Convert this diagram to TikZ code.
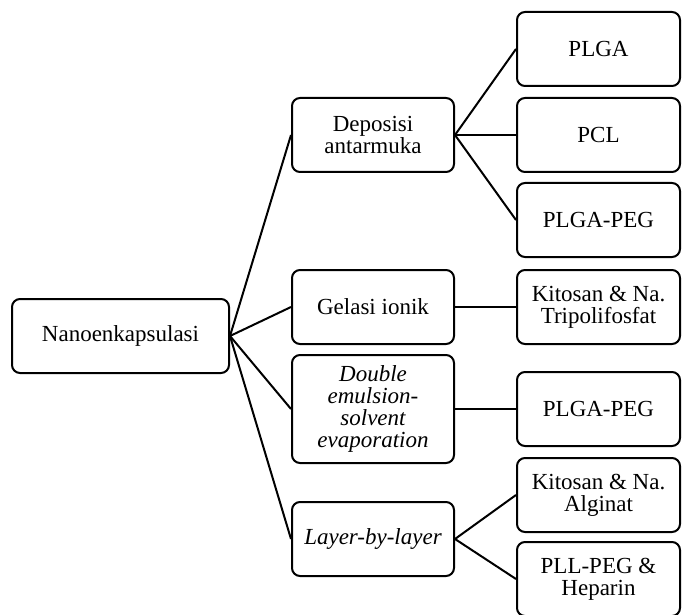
\documentclass[tikz,border=0pt]{standalone}
\usepackage{fontspec}
\setmainfont{Liberation Serif}
\usetikzlibrary{positioning}
\newcommand{\boxfont}{\fontsize{23}{22}\selectfont}

\begin{document}
\begin{tikzpicture}[
    x=1pt, y=-1pt,
    box/.style={rectangle, draw, rounded corners=8pt, line width=2pt,
                align=center, inner sep=2pt, minimum height=74pt,
                minimum width=#1, font=\boxfont},
    link/.style={line width=2pt},
]
\useasboundingbox (0,0) rectangle (686,615);

% root
\node[box=217pt] (nano) at (120.5,336) {Nanoenkapsulasi};

% methods
\node[box=162pt] (depo) at (373,135) {Deposisi\\antarmuka};
\node[box=162pt] (gel)  at (373,307) {Gelasi ionik};
\node[box=162pt, minimum height=108pt, font=\boxfont\itshape] (dbl) at (373,409)
  {Double\\emulsion-\\solvent\\evaporation};
\node[box=162pt, font=\boxfont\itshape] (lbl) at (373,539) {Layer-by-layer};

% materials
\node[box=163pt] (plga)  at (598.5,49)  {PLGA};
\node[box=163pt] (pcl)   at (598.5,135) {PCL};
\node[box=163pt] (peg)   at (598.5,220) {PLGA-PEG};
\node[box=163pt] (tpp)   at (598.5,307) {Kitosan \& Na.\\Tripolifosfat};
\node[box=163pt] (peg2)  at (598.5,409) {PLGA-PEG};
\node[box=163pt] (alg)   at (598.5,495) {Kitosan \& Na.\\Alginat};
\node[box=163pt] (hep)   at (598.5,579) {PLL-PEG \&\\Heparin};

\draw[link] (nano.east) -- (depo.west);
\draw[link] (nano.east) -- (gel.west);
\draw[link] (nano.east) -- (dbl.west);
\draw[link] (nano.east) -- (lbl.west);

\draw[link] (depo.east) -- (plga.west);
\draw[link] (depo.east) -- (pcl.west);
\draw[link] (depo.east) -- (peg.west);
\draw[link] (gel.east) -- (tpp.west);
\draw[link] (dbl.east) -- (peg2.west);
\draw[link] (lbl.east) -- (alg.west);
\draw[link] (lbl.east) -- (hep.west);
\end{tikzpicture}
\end{document}
